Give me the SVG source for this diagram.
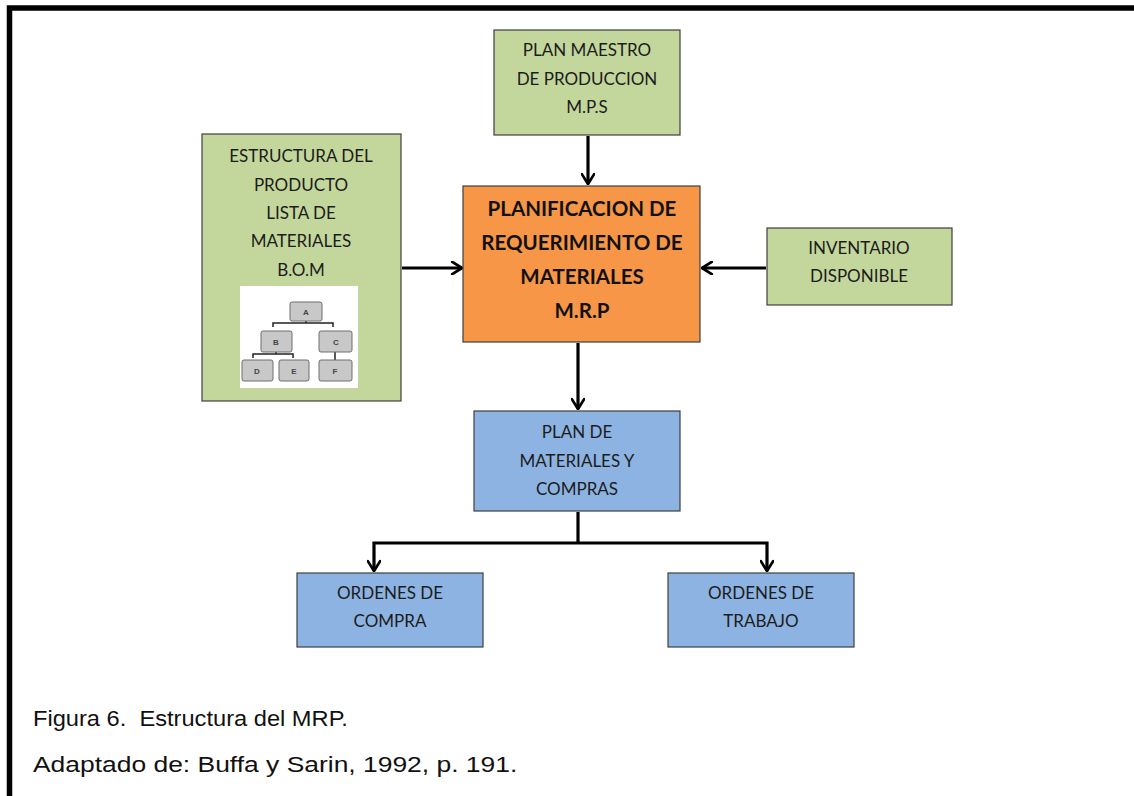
<svg xmlns="http://www.w3.org/2000/svg" width="1134" height="796" viewBox="0 0 1134 796">
  <style>
    .box { stroke: #3f3f3f; stroke-width: 1.2; }
    .green { fill: #c3d69b; }
    .orange { fill: #f79646; }
    .blue { fill: #8db3e2; }
    .t { font-family: Lato, "Open Sans", sans-serif; font-size: 17px; fill: #1c1c1c; text-anchor: middle; }
    .tb { font-family: Lato, "Open Sans", sans-serif; font-size: 20.5px; font-weight: bold; fill: #111; text-anchor: middle; }
    .cap { font-family: "Liberation Sans", Arial, sans-serif; font-size: 21.5px; fill: #111; white-space: pre; }
    .conn { fill: none; stroke: #000; stroke-width: 3.2; }
    .mini { fill: #c8c8c8; stroke: #6e6e6e; stroke-width: 1; }
    .minit { font-family: "Liberation Sans", Arial, sans-serif; font-size: 8px; font-weight: bold; fill: #444; text-anchor: middle; }
    .minil { fill: none; stroke: #222; stroke-width: 1.5; }
  </style>
  <defs>
    <marker id="arrow" viewBox="0 0 12 12" refX="11" refY="6" markerWidth="4.6" markerHeight="4.6" orient="auto" markerUnits="strokeWidth">
      <polyline points="3,1 11,6 3,11" fill="none" stroke="#000" stroke-width="2.2" stroke-linecap="round" stroke-linejoin="round"/>
    </marker>
  </defs>

  <rect width="1134" height="796" fill="#fff"/>

  <!-- page frame -->
  <path d="M9.5 796 V8 H1134" fill="none" stroke="#000" stroke-width="5.5"/>

  <!-- connectors -->
  <g id="connectors">
    <line class="conn" x1="588" y1="136" x2="588" y2="184" marker-end="url(#arrow)"/>
    <line class="conn" x1="402" y1="268" x2="462" y2="268" marker-end="url(#arrow)"/>
    <line class="conn" x1="766" y1="268" x2="702" y2="268" marker-end="url(#arrow)"/>
    <line class="conn" x1="578" y1="343" x2="578" y2="409" marker-end="url(#arrow)"/>
    <path class="conn" d="M578 512 V543"/>
    <path class="conn" d="M578 543 H374 V571" marker-end="url(#arrow)"/>
    <path class="conn" d="M578 543 H767 V571" marker-end="url(#arrow)"/>
  </g>

  <!-- master production schedule -->
  <g id="mps">
    <rect class="box green" x="494" y="30" width="186" height="105"/>
    <text class="t" x="587" y="56">PLAN MAESTRO</text>
    <text class="t" x="587" y="85">DE PRODUCCION</text>
    <text class="t" x="587" y="113">M.P.S</text>
  </g>

  <!-- bill of materials -->
  <g id="bom">
    <rect class="box green" x="202" y="134" width="199" height="267"/>
    <text class="t" x="301" y="162">ESTRUCTURA DEL</text>
    <text class="t" x="301" y="191">PRODUCTO</text>
    <text class="t" x="301" y="219">LISTA DE</text>
    <text class="t" x="301" y="247">MATERIALES</text>
    <text class="t" x="301" y="276">B.O.M</text>
    <g id="bom-tree">
      <rect x="240" y="286" width="118" height="102" fill="#fff"/>
      <path class="minil" d="M273 327 V323 H333 V327 M306 321 V323"/>
      <path class="minil" d="M253 358 V354 H293 V358 M276 352 V354 M335 352 V360"/>
      <rect class="mini" x="290" y="302" width="32" height="19" rx="2"/>
      <text class="minit" x="306" y="315">A</text>
      <rect class="mini" x="261" y="331" width="31" height="21" rx="2"/>
      <text class="minit" x="276" y="345">B</text>
      <rect class="mini" x="319" y="331" width="33" height="21" rx="2"/>
      <text class="minit" x="336" y="345">C</text>
      <rect class="mini" x="242" y="360" width="31" height="21" rx="2"/>
      <text class="minit" x="257" y="374">D</text>
      <rect class="mini" x="279" y="360" width="30" height="21" rx="2"/>
      <text class="minit" x="294" y="374">E</text>
      <rect class="mini" x="319" y="360" width="33" height="21" rx="2"/>
      <text class="minit" x="335" y="374">F</text>
    </g>
  </g>

  <!-- MRP core -->
  <g id="mrp">
    <rect class="box orange" x="463" y="186" width="237" height="156"/>
    <text class="tb" x="582" y="216">PLANIFICACION DE</text>
    <text class="tb" x="582" y="250">REQUERIMIENTO  DE</text>
    <text class="tb" x="582" y="284">MATERIALES</text>
    <text class="tb" x="582" y="318">M.R.P</text>
  </g>

  <!-- available inventory -->
  <g id="inventario">
    <rect class="box green" x="767" y="228" width="185" height="77"/>
    <text class="t" x="859" y="254">INVENTARIO</text>
    <text class="t" x="859" y="282">DISPONIBLE</text>
  </g>

  <!-- materials and purchasing plan -->
  <g id="plan-materiales">
    <rect class="box blue" x="474" y="411" width="206" height="100"/>
    <text class="t" x="577" y="438">PLAN DE</text>
    <text class="t" x="577" y="467">MATERIALES Y</text>
    <text class="t" x="577" y="495">COMPRAS</text>
  </g>

  <!-- purchase orders -->
  <g id="ordenes-compra">
    <rect class="box blue" x="297" y="573" width="186" height="74"/>
    <text class="t" x="390" y="599">ORDENES DE</text>
    <text class="t" x="390" y="627">COMPRA</text>
  </g>

  <!-- work orders -->
  <g id="ordenes-trabajo">
    <rect class="box blue" x="668" y="573" width="186" height="74"/>
    <text class="t" x="761" y="599">ORDENES DE</text>
    <text class="t" x="761" y="627">TRABAJO</text>
  </g>

  <!-- caption -->
  <text class="cap" transform="translate(33 726) scale(1.1 1)">Figura 6.  Estructura del MRP.</text>
  <text class="cap" transform="translate(33 772) scale(1.23 1)">Adaptado de: Buffa y Sarin, 1992, p. 191.</text>
</svg>
